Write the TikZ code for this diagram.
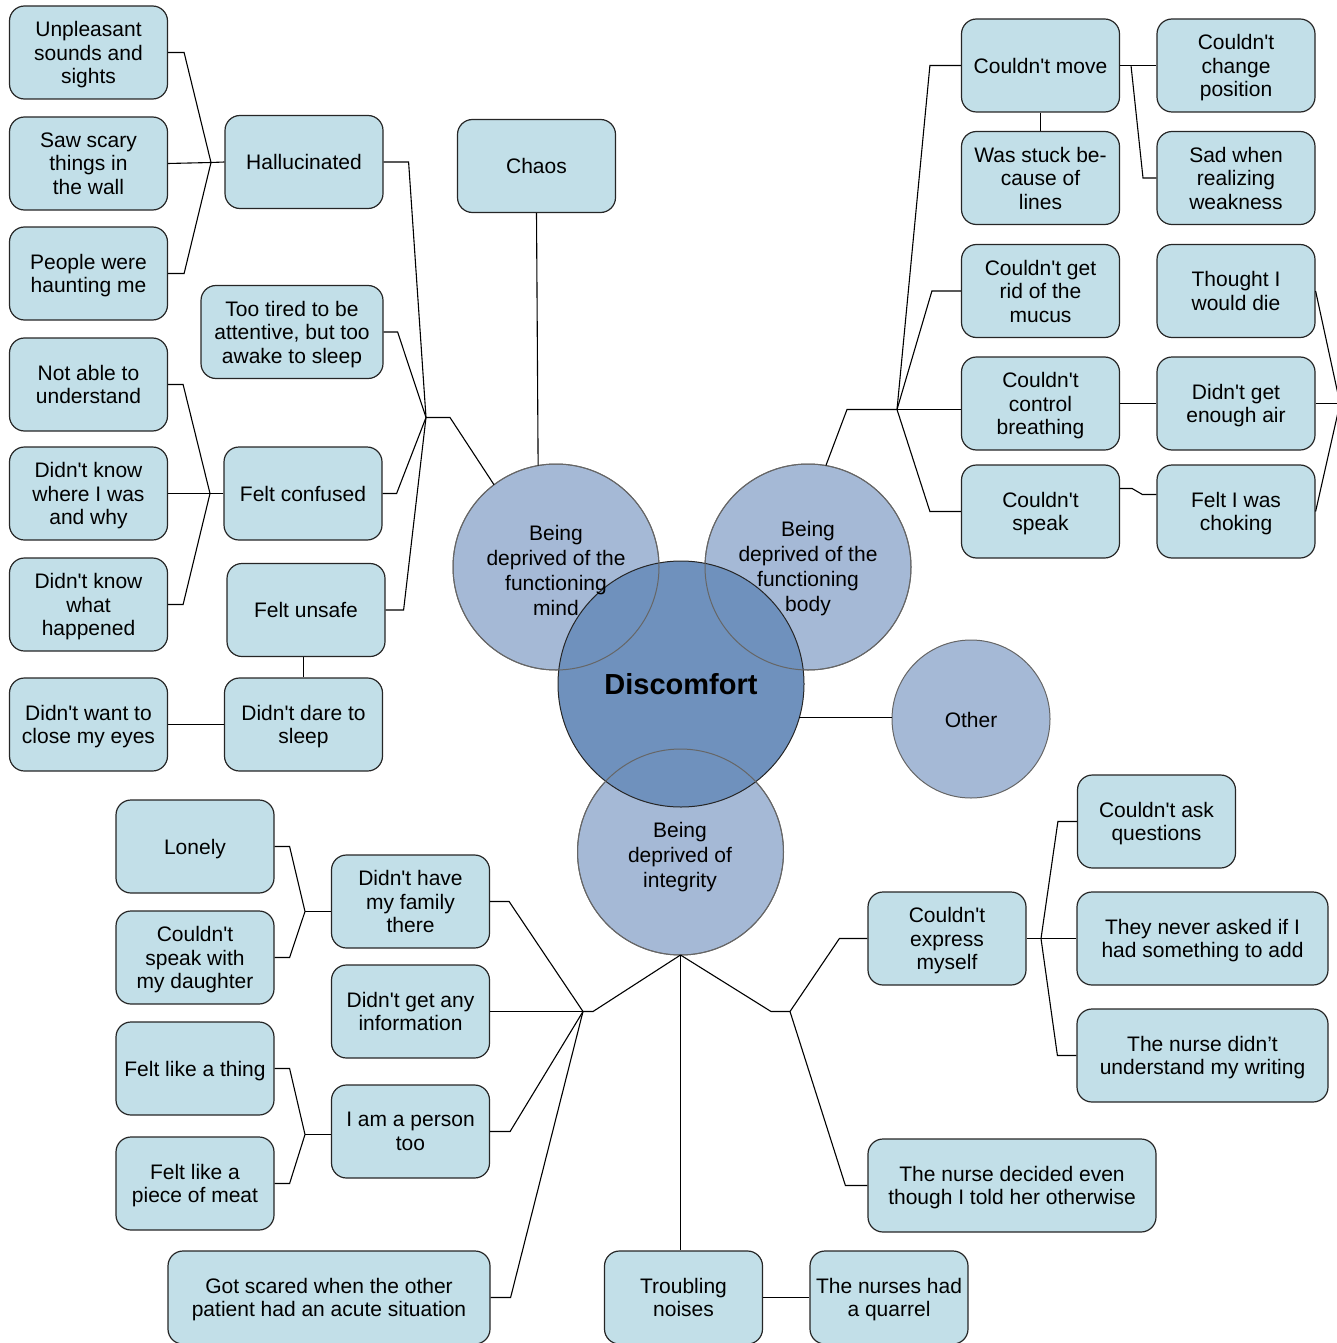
\documentclass[tikz,border=0pt]{standalone}
\usepackage{fontspec}
\setmainfont{Liberation Sans}[Ligatures=TeXOff]
\usepackage{tikz}
\usetikzlibrary{shapes,calc}

\definecolor{boxblue}{HTML}{C2DFE8}
\definecolor{ringblue}{HTML}{A5B9D6}
\definecolor{coreblue}{HTML}{6F91BD}

\begin{document}
\begin{tikzpicture}[x=1pt,y=-1pt]
\tikzstyle{box}=[rectangle, rounded corners=15pt, draw=black!85, line width=1.2pt, fill=boxblue,
    minimum width=158pt, minimum height=93pt, inner sep=2pt, align=center, text depth=0pt,
    font=\fontsize{21}{23.5}\selectfont]
\tikzstyle{ring}=[circle, draw=black!60, line width=1pt, fill=ringblue, inner sep=0pt, outer sep=0pt,
    minimum size=206pt]
\tikzstyle{ringtext}=[align=center, font=\fontsize{21}{25}\selectfont]
\tikzstyle{link}=[black, line width=1.1pt]

\useasboundingbox (0,0) rectangle (1337,1343);

\node (unpl) at (88.5,52.5) [box] {Unpleasant\\sounds and\\sights};
\node (scary) at (88.5,163.5) [box] {Saw scary\\things in\\the wall};
\node (haunt) at (88.5,273.5) [box] {People were\\haunting me};
\node (under) at (88.5,384.5) [box] {Not able to\\understand};
\node (where) at (88.5,493.5) [box] {Didn't know\\where I was\\and why};
\node (what) at (88.5,604.5) [box] {Didn't know\\what\\happened};
\node (eyes) at (88.5,724.5) [box] {Didn't want to\\close my eyes};
\node (hall) at (304,162) [box] {Hallucinated};
\node (tired) at (292,332) [box, minimum width=182pt] {Too tired to be\\attentive, but too\\awake to sleep};
\node (conf) at (303,493.5) [box] {Felt confused};
\node (unsafe) at (306,610) [box] {Felt unsafe};
\node (dare) at (303.5,724.5) [box] {Didn't dare to\\sleep};
\node (chaos) at (536.5,166) [box] {Chaos};

\node (move) at (1040.5,65.5) [box] {Couldn't move};
\node (stuck) at (1040.5,178) [box] {Was stuck be-\\cause of\\lines};
\node (mucus) at (1040.5,291) [box] {Couldn't get\\rid of the\\mucus};
\node (breath) at (1040.5,403.5) [box] {Couldn't\\control\\breathing};
\node (speak) at (1040.5,511.5) [box] {Couldn't\\speak};
\node (chpos) at (1236,65.5) [box] {Couldn't\\change\\position};
\node (weak) at (1236,178) [box] {Sad when\\realizing\\weakness};
\node (die) at (1236,291) [box] {Thought I\\would die};
\node (air) at (1236,403.5) [box] {Didn't get\\enough air};
\node (choke) at (1236,511.5) [box] {Felt I was\\choking};

\node (lonely) at (195,846.5) [box] {Lonely};
\node (daught) at (195,957.5) [box] {Couldn't\\speak with\\my daughter};
\node (thing) at (195,1068.5) [box] {Felt like a thing};
\node (meat) at (195,1183.5) [box] {Felt like a\\piece of meat};
\node (family) at (410.5,901.5) [box] {Didn't have\\my family\\there};
\node (info) at (410.5,1011.5) [box] {Didn't get any\\information};
\node (person) at (410.5,1131.5) [box] {I am a person\\too};
\node (scared) at (329,1297.5) [box, minimum width=322pt] {Got scared when the other\\patient had an acute situation};
\node (noises) at (683.5,1297.5) [box] {Troubling\\noises};
\node (quarrel) at (889,1297.5) [box] {The nurses had\\a quarrel};
\node (express) at (947,938.5) [box] {Couldn't\\express\\myself};
\node (decided) at (1012,1185.5) [box, minimum width=288pt] {The nurse decided even\\though I told her otherwise};
\node (ask) at (1156.5,821.5) [box] {Couldn't ask\\questions};
\node (never) at (1202.5,938.5) [box, minimum width=251pt] {They never asked if I\\had something to add};
\node (writing) at (1202.5,1055.5) [box, minimum width=251pt] {The nurse didn’t\\understand my writing};

\node (mind) at (556,567) [ring] {};
\node (body) at (808,567) [ring] {};
\node (integ) at (680.5,852) [ring] {};
\node (other) at (971,719) [ring, minimum size=158pt] {};
\node (disc) at (681,684) [ring, minimum size=246pt, fill=coreblue, draw=black!85] {};
\draw[black!60, line width=1pt] (mind.center) circle[radius=103pt];
\draw[black!60, line width=1pt] (body.center) circle[radius=103pt];
\draw[black!60, line width=1pt] (integ.center) circle[radius=103pt];
\node (mindtxt) at (556,570.5) [ringtext] {Being\\deprived of the\\functioning\\mind};
\node (bodytxt) at (808,568.5) [ringtext] {Being\\deprived of the\\functioning\\body};
\node (integtxt) at (680,857) [ringtext] {Being\\deprived of\\integrity};
\node (othertxt) at (971,720) [ringtext] {Other};
\node (disctxt) at (681,684) [font=\bfseries\fontsize{29}{32}\selectfont] {Discomfort};

\coordinate (hm) at (426,417.5);
\draw[link] (mind.127) -- (450,417.5) -- (hm);
\draw[link] (hall.east) -- ++(25,0) -- (hm);
\draw[link] (tired.east) -- ++(14,0) -- (hm);
\draw[link] (conf.east) -- ++(14,0) -- (hm);
\draw[link] (unsafe.east) -- ++(18,0) -- (hm);
\coordinate (hh) at (211,162.5);
\draw[link] (hall.west) -- (hh);
\draw[link] (unpl.east) -- ++(16,0) -- (hh);
\draw[link] (scary.east) -- (hh);
\draw[link] (haunt.east) -- ++(16,0) -- (hh);
\coordinate (hc) at (210,493.5);
\draw[link] (conf.west) -- (hc);
\draw[link] (under.east) -- ++(15,0) -- (hc);
\draw[link] (where.east) -- (hc);
\draw[link] (what.east) -- ++(15,0) -- (hc);
\draw[link] (dare.north) -- (dare.north |- unsafe.south);
\draw[link] (dare.west) -- (eyes.east);
\draw[link] (chaos.south) -- (mind.100);

\coordinate (hb) at (897,409.5);
\draw[link] (body.80) -- (847,409.5) -- (hb);
\draw[link] (move.west) -- ++(-31,0) -- (hb);
\draw[link] (mucus.west) -- ++(-29,0) -- (hb);
\draw[link] (hb) -- (hb -| breath.west);
\draw[link] (speak.west) -- ++(-31,0) -- (hb);
\draw[link] (move.south) -- (stuck.north);
\coordinate (hv) at (1131,65.5);
\draw[link] (move.east) -- (chpos.west);
\draw[link] (hv) -- (1143,178) -- (weak.west);
\draw[link] (breath.east) -- (air.west);
\draw[link] ([yshift=23pt]speak.east) -- ++(12,0) -- ([xshift=-14pt,yshift=17pt]choke.west) -- ([yshift=17pt]choke.west);
\coordinate (hr) at (1340,403.5);
\draw[link] (die.east) -- (hr);
\draw[link] (air.east) -- (hr);
\draw[link] (choke.east) -- (hr);

\draw[link] (disc.344.2) -- (disc.344.2 -| other.west);

\coordinate (hl) at (583,1011.5);
\coordinate (hi) at (790,1011.5);
\draw[link] (integ.south) -- (593,1011.5) -- (hl);
\draw[link] (integ.south) -- (771,1011.5) -- (hi);
\draw[link] (integ.south) -- (integ.south |- noises.north);
\draw[link] (family.east) -- ++(19,0) -- (hl);
\draw[link] (info.east) -- (hl);
\draw[link] (person.east) -- ++(20,0) -- (hl);
\draw[link] (scared.east) -- ++(20,0) -- (hl);
\coordinate (hf) at (305,911.5);
\draw[link] (hf) -- (hf -| family.west);
\draw[link] (lonely.east) -- ++(15,0) -- (hf);
\draw[link] (daught.east) -- ++(15,0) -- (hf);
\coordinate (hp) at (305,1134.5);
\draw[link] (hp) -- (hp -| person.west);
\draw[link] (thing.east) -- ++(15,0) -- (hp);
\draw[link] (meat.east) -- ++(15,0) -- (hp);
\coordinate (he) at (1041,938.5);
\draw[link] (express.west) -- ++(-28,0) -- (hi);
\draw[link] (decided.west) -- ++(-22,0) -- (hi);
\draw[link] (express.east) -- (he);
\draw[link] (ask.west) -- ++(-19,0) -- (he);
\draw[link] (never.west) -- (he);
\draw[link] (writing.west) -- ++(-19,0) -- (he);
\draw[link] (noises.east) -- (quarrel.west);
\end{tikzpicture}
\end{document}
